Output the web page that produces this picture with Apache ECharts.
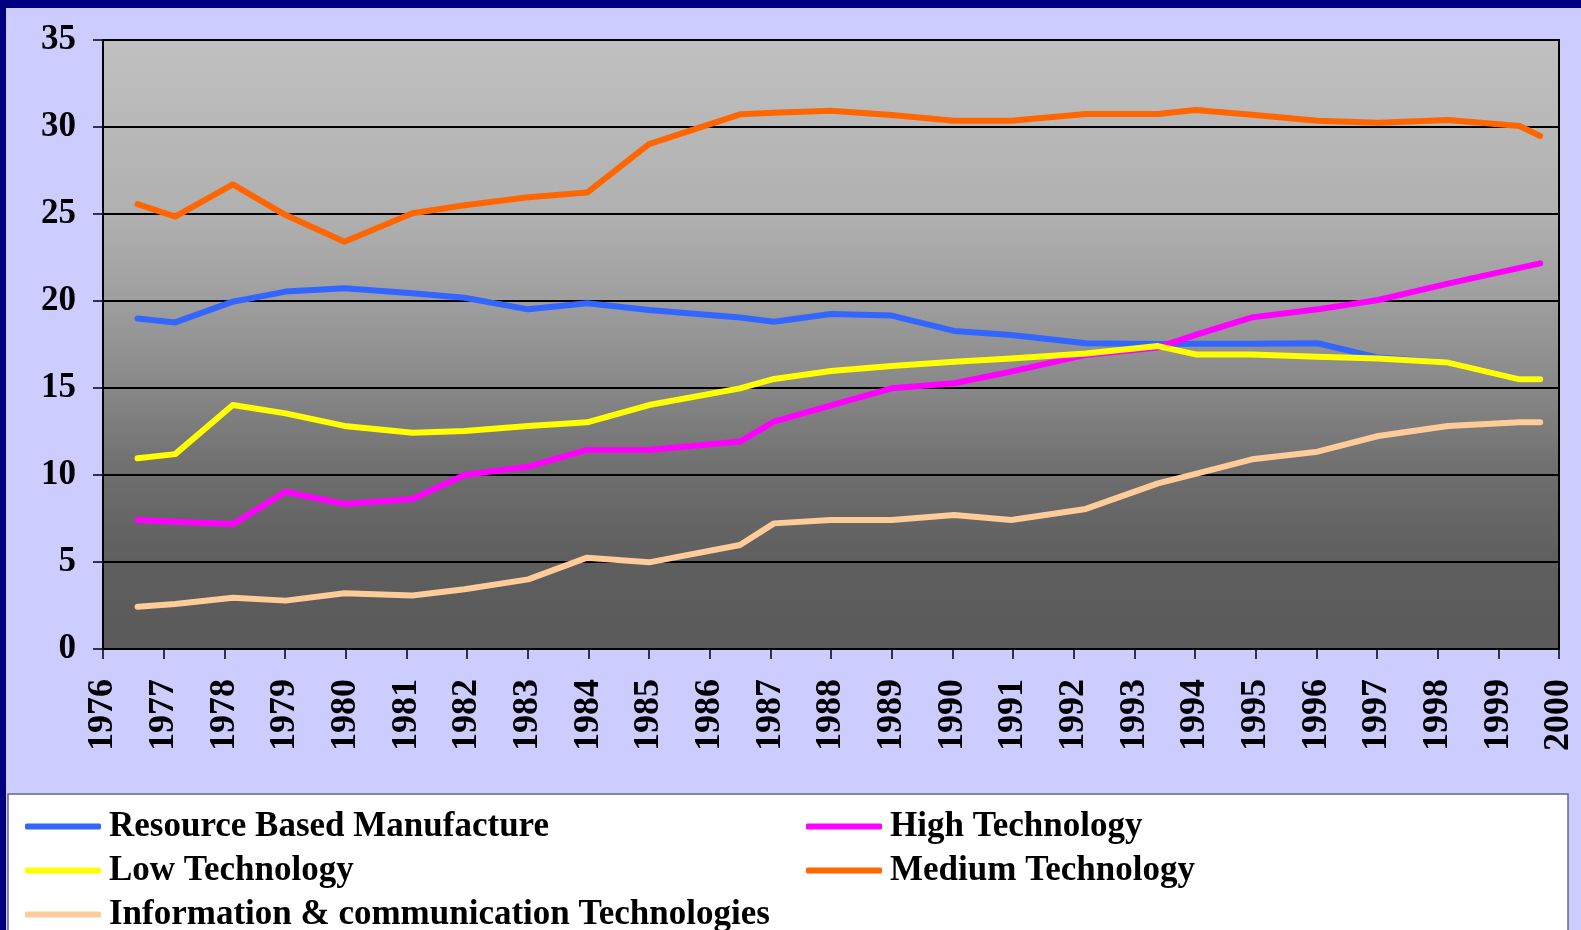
<!DOCTYPE html>
<html>
<head>
<meta charset="utf-8">
<title>Technology shares 1976-2000</title>
<script src="https://cdn.jsdelivr.net/npm/echarts@6/dist/echarts.min.js"></script>
<style>
html, body { margin: 0; padding: 0; background: #ccccff; }
#chart { width: 1581px; height: 930px; }
</style>
</head>
<body>
<div id="chart"></div>
<script>
// x positions of the points (fractional years, as plotted in the original)
const years = [1976.57, 1977.19, 1978.14, 1979.01, 1979.98, 1981.1, 1981.96, 1983.01, 1983.98, 1985.0,
  1986.5, 1987.06, 1988.0, 1989.0, 1990.03, 1990.97, 1992.2, 1993.39, 1994.01, 1994.94,
  1996.02, 1997.02, 1998.17, 1999.35, 1999.69];

const resourceBased = [19.0, 18.77, 19.96, 20.54, 20.73, 20.44, 20.19, 19.52, 19.87, 19.48,
  19.05, 18.81, 19.25, 19.16, 18.28, 18.05, 17.57, 17.53, 17.55, 17.55,
  17.57, 16.75, 16.46, 15.5, 15.5];
const highTech = [7.41, 7.32, 7.18, 9.04, 8.33, 8.62, 10.0, 10.48, 11.44, 11.44,
  11.92, 13.07, 14.0, 14.98, 15.27, 15.94, 16.9, 17.33, 18.05, 19.06,
  19.52, 20.06, 21.0, 21.9, 22.16];
const lowTech = [10.96, 11.2, 14.02, 13.54, 12.82, 12.43, 12.53, 12.82, 13.03, 14.02,
  14.98, 15.52, 15.98, 16.26, 16.51, 16.7, 16.98, 17.41, 16.93, 16.93,
  16.8, 16.7, 16.46, 15.5, 15.5];
const mediumTech = [25.57, 24.85, 26.7, 24.94, 23.41, 25.04, 25.5, 25.96, 26.23, 29.02,
  30.73, 30.82, 30.94, 30.69, 30.36, 30.36, 30.75, 30.75, 30.98, 30.7,
  30.36, 30.25, 30.4, 30.06, 29.48];
const ictTech = [2.43, 2.59, 2.95, 2.78, 3.2, 3.07, 3.43, 4.0, 5.25, 4.98,
  5.98, 7.22, 7.41, 7.41, 7.7, 7.41, 8.05, 9.52, 10.06, 10.9,
  11.34, 12.24, 12.82, 13.03, 13.03];

const seriesNames = ["Resource Based Manufacture", "High Technology", "Low Technology",
  "Medium Technology", "Information & communication Technologies"];
const seriesColors = ["#3366ff", "#ff00ff", "#ffff00", "#ff6600", "#ffcc99"];
const seriesValues = [resourceBased, highTech, lowTech, mediumTech, ictTech];

const serifFont = "'Liberation Serif', 'Times New Roman', serif";

const chart = echarts.init(document.getElementById("chart"));

const legendText = {
  fontFamily: serifFont,
  fontWeight: "bold",
  fontSize: 35,
  lineHeight: 37,
  color: "#000",
  padding: [0, 0, 0, 3]
};

// one legend block per entry, laid out like the original two-column key
function legendItem(name, left, top) {
  return {
    orient: "vertical",
    left: left,
    top: top,
    padding: 0,
    itemWidth: 76,
    itemHeight: 6,
    icon: "roundRect",
    data: [name],
    textStyle: legendText
  };
}

chart.setOption({
  animation: false,
  backgroundColor: "#ccccff",
  graphic: [
    { type: "rect", shape: { x: 0, y: 0, width: 1581, height: 8 }, style: { fill: "#000080" } },
    { type: "rect", shape: { x: 0, y: 0, width: 6, height: 930 }, style: { fill: "#000080" } },
    {
      type: "rect",
      shape: { x: 8, y: 794, width: 1560, height: 150 },
      style: { fill: "#ffffff", stroke: "#666688", lineWidth: 1.5 },
      z: -1
    }
  ],
  grid: {
    left: 103,
    right: 22,
    top: 40,
    bottom: 281,
    show: true,
    borderColor: "#000",
    borderWidth: 2,
    backgroundColor: new echarts.graphic.LinearGradient(0, 0, 0, 1, [
      { offset: 0, color: "#c0c0c0" },
      { offset: 0.29, color: "#b0b0b0" },
      { offset: 0.43, color: "#9e9e9e" },
      { offset: 0.57, color: "#888888" },
      { offset: 0.71, color: "#6e6e6e" },
      { offset: 0.86, color: "#5e5e5e" },
      { offset: 1, color: "#5a5a5a" }
    ])
  },
  legend: [
    legendItem(seriesNames[0], 25, 808),
    legendItem(seriesNames[2], 25, 852),
    legendItem(seriesNames[4], 25, 896),
    legendItem(seriesNames[1], 806, 808),
    legendItem(seriesNames[3], 806, 852)
  ],
  xAxis: {
    type: "value",
    min: 1976,
    max: 2000,
    interval: 1,
    axisLine: { show: true, lineStyle: { color: "#000", width: 2 } },
    axisTick: { show: true, inside: false, length: 10, lineStyle: { color: "#000", width: 1.5 } },
    splitLine: { show: false },
    axisLabel: {
      rotate: 90,
      margin: 30,
      fontFamily: serifFont,
      fontWeight: "bold",
      fontSize: 36,
      color: "#000",
      formatter: v => String(v)
    }
  },
  yAxis: {
    type: "value",
    min: 0,
    max: 35,
    interval: 5,
    axisLine: { show: true, lineStyle: { color: "#000", width: 2 } },
    axisTick: { show: true, inside: false, length: 10, lineStyle: { color: "#000", width: 1.5 } },
    splitLine: { show: true, lineStyle: { color: "#000", width: 2 } },
    axisLabel: {
      margin: 27,
      fontFamily: serifFont,
      fontWeight: "bold",
      fontSize: 35,
      color: "#000"
    }
  },
  series: seriesNames.map((name, k) => ({
    name: name,
    type: "line",
    symbol: "none",
    showSymbol: false,
    data: years.map((yr, i) => [yr, seriesValues[k][i]]),
    itemStyle: { color: seriesColors[k] },
    lineStyle: { color: seriesColors[k], width: 6, cap: "round", join: "round" }
  }))
});
</script>
</body>
</html>
